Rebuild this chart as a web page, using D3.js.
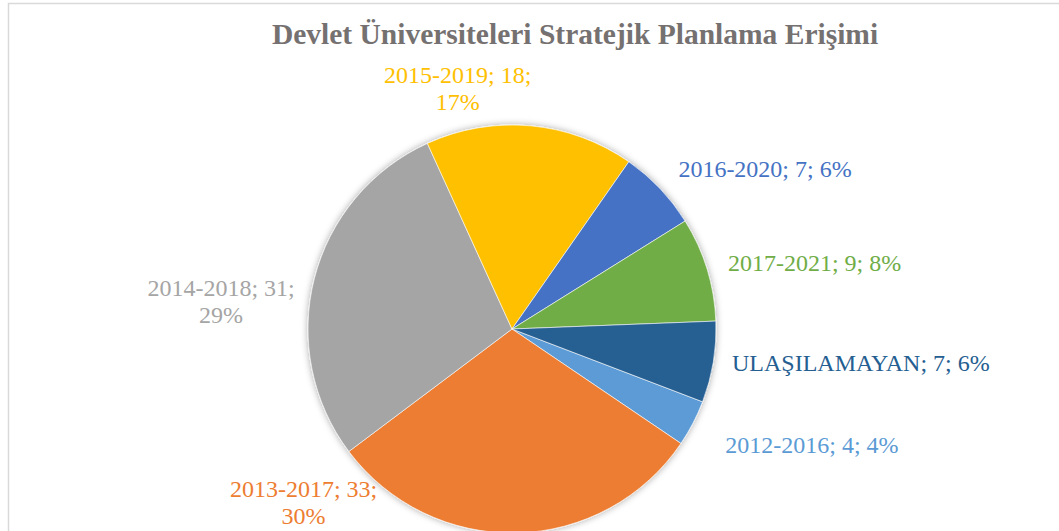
<!DOCTYPE html>
<html>
<head>
<meta charset="utf-8">
<script src="https://cdn.jsdelivr.net/npm/d3@7"></script>
<style>
  html, body { margin: 0; padding: 0; background: #fff; }
  svg { display: block; }
</style>
</head>
<body>
<div id="chart"></div>
<script>
// Data
const categories = ["2012-2016", "2013-2017", "2014-2018", "2015-2019", "2016-2020", "2017-2021", "ULAŞILAMAYAN"];
const values = [4, 33, 31, 18, 7, 9, 7];
const percents = ["4%", "30%", "29%", "17%", "6%", "8%", "6%"];
const colors = ["#5B9BD5", "#ED7D31", "#A5A5A5", "#FFC000", "#4472C4", "#70AD47", "#255E91"];

// Label placement (Excel "best fit"), nudges relative to the label arc
const labelAnchor = ["start", "middle", "middle", "middle", "start", "start", "start"];
const labelDx = [11, -214, -70, -75, 1, -2, -5];
const labelDy = [19, -60, 23, -19, 5, 9, 5];
const labelWrap = [false, true, true, true, false, false, false];

const width = 1059;
const height = 531;
const cx = 512, cy = 329, radius = 204;
const firstSliceAngle = 110.9; // degrees, clockwise from 12 o'clock

const svg = d3.select("#chart")
  .append("svg")
  .attr("width", width)
  .attr("height", height);

// Shadow filter for the pie
const defs = svg.append("defs");
const filter = defs.append("filter")
  .attr("id", "pieShadow")
  .attr("x", "-20%").attr("y", "-20%")
  .attr("width", "140%").attr("height", "140%");
filter.append("feDropShadow")
  .attr("dx", 0)
  .attr("dy", 0)
  .attr("stdDeviation", 3.5)
  .attr("flood-color", "#000")
  .attr("flood-opacity", 0.35);

// Chart frame (only top and left edges are visible)
svg.append("rect")
  .attr("x", 8.5)
  .attr("y", 3.5)
  .attr("width", 1200)
  .attr("height", 700)
  .attr("fill", "none")
  .attr("stroke", "#d9d9d9")
  .attr("stroke-width", 1.5);

// Title
svg.append("text")
  .attr("x", 575)
  .attr("y", 44)
  .attr("text-anchor", "middle")
  .attr("font-family", "'Liberation Serif', 'Times New Roman', serif")
  .attr("font-size", "29.5px")
  .attr("font-weight", "bold")
  .attr("fill", "#757171")
  .text("Devlet Üniversiteleri Stratejik Planlama Erişimi");

const rows = categories.map((c, i) => ({ category: c, value: values[i], i: i }));

const start = firstSliceAngle * Math.PI / 180;
const pie = d3.pie()
  .sort(null)
  .value(d => d.value)
  .startAngle(start)
  .endAngle(start + 2 * Math.PI);

const arcs = pie(rows);

const arc = d3.arc().innerRadius(0).outerRadius(radius);
const labelArc = d3.arc().innerRadius(radius + 24).outerRadius(radius + 24);

const pieGroup = svg.append("g")
  .attr("transform", `translate(${cx},${cy})`);

pieGroup.append("g")
  .attr("filter", "url(#pieShadow)")
  .selectAll("path")
  .data(arcs)
  .join("path")
  .attr("d", arc)
  .attr("fill", d => colors[d.data.i])
  .attr("stroke", "#fff")
  .attr("stroke-width", 0.6);

// Data labels
const labels = pieGroup.append("g")
  .attr("font-family", "'Liberation Serif', 'Times New Roman', serif")
  .attr("font-size", "24px")
  .selectAll("text")
  .data(arcs)
  .join("text")
  .attr("fill", d => colors[d.data.i])
  .attr("text-anchor", d => labelAnchor[d.data.i])
  .attr("transform", d => {
    const [x, y] = labelArc.centroid(d);
    return `translate(${x + labelDx[d.data.i]},${y + labelDy[d.data.i]})`;
  });

labels.each(function(d) {
  const i = d.data.i;
  const t = d3.select(this);
  if (labelWrap[i]) {
    t.append("tspan").attr("x", 0).attr("y", 0)
      .text(`${categories[i]}; ${values[i]};`);
    t.append("tspan").attr("x", 0).attr("y", 27)
      .text(percents[i]);
  } else {
    t.append("tspan").attr("x", 0).attr("y", 0)
      .text(`${categories[i]}; ${values[i]}; ${percents[i]}`);
  }
});
</script>
</body>
</html>
